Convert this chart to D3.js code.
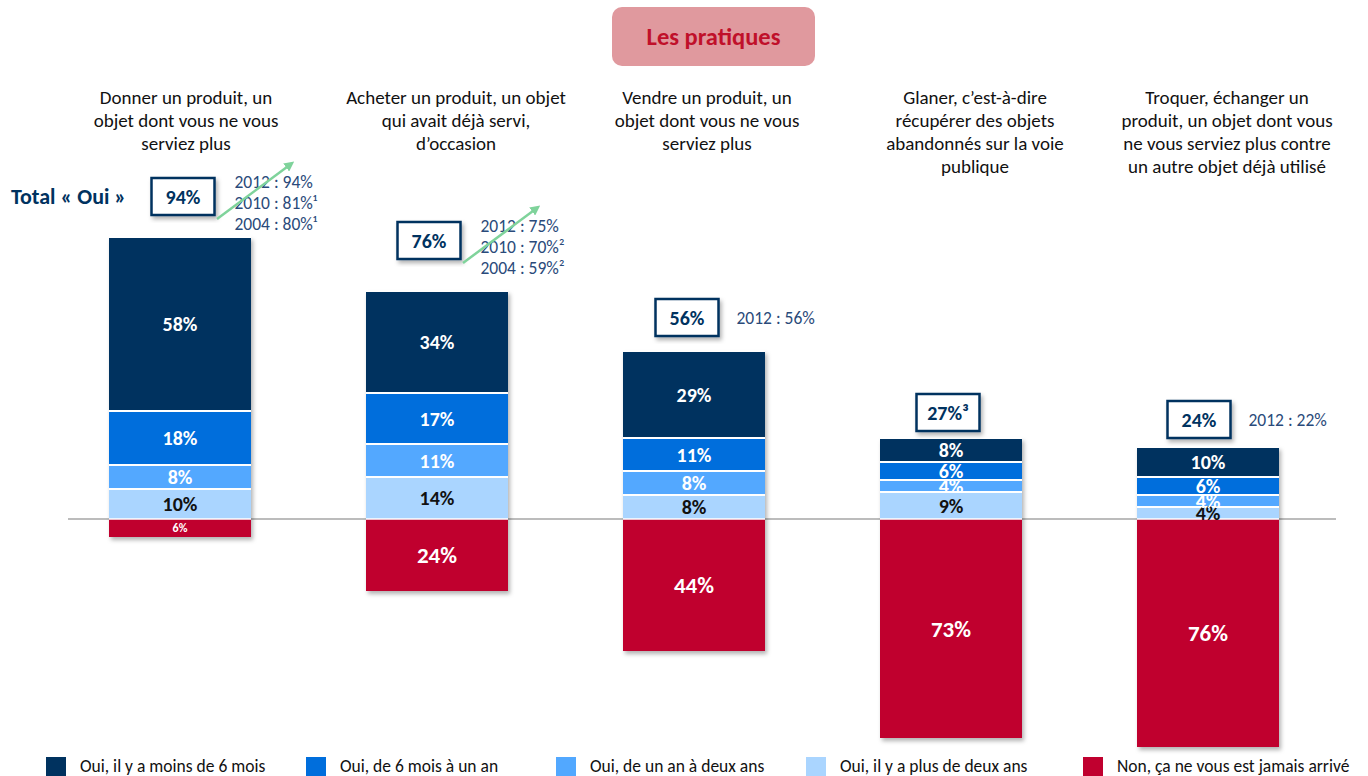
<!DOCTYPE html>
<html>
<head>
<meta charset="utf-8">
<script src="https://cdn.jsdelivr.net/npm/d3@7"></script>
<style>
  body { margin: 0; background: #fff; }
  svg { font-family: Carlito, Lato, "Open Sans", sans-serif; }
</style>
</head>
<body>
<div id="chart"></div>
<script>
// chart data
var categories = ["donner", "acheter", "vendre", "glaner", "troquer"];
var categoryTitles = [
  ["Donner un produit, un", "objet dont vous ne vous", "serviez plus"],
  ["Acheter un produit, un objet", "qui avait déjà servi,", "d\u2019occasion"],
  ["Vendre un produit, un", "objet dont vous ne vous", "serviez plus"],
  ["Glaner, c\u2019est-à-dire", "récupérer des objets", "abandonnés sur la voie", "publique"],
  ["Troquer, échanger un", "produit, un objet dont vous", "ne vous serviez plus contre", "un autre objet déjà utilisé"]
];
var seriesNames = [
  "Oui, il y a moins de 6 mois",
  "Oui, de 6 mois à un an",
  "Oui, de un an à deux ans",
  "Oui, il y a plus de deux ans",
  "Non, ça ne vous est jamais arrivé"
];
// stacked from the baseline upward: plus de deux ans, un an à deux ans, 6 mois à un an, moins de 6 mois
var moinsDe6Mois = [58, 34, 29, 8, 10];
var de6MoisAUnAn = [18, 17, 11, 6, 6];
var deUnADeuxAns = [8, 11, 8, 4, 4];
var plusDeDeuxAns = [10, 14, 8, 9, 4];
var jamais = [6, 24, 44, 73, 76];
var totalOui = ["94%", "76%", "56%", "27%\u00b3", "24%"];
var pastTotals = [
  ["2012 : 94%", "2010 : 81%\u00b9", "2004 : 80%\u00b9"],
  ["2012 : 75%", "2010 : 70%\u00b2", "2004 : 59%\u00b2"],
  ["2012 : 56%"],
  [],
  ["2012 : 22%"]
];

var colors = ["#00325F", "#006EDC", "#52A8FF", "#AAD5FF", "#C0002F"];
var labelColors = ["#fff", "#fff", "#fff", "#111", "#fff"];

var svgWidth = 1368, svgHeight = 776;
var svg = d3.select("#chart").append("svg").attr("width", svgWidth).attr("height", svgHeight);

var defs = svg.append("defs");
var shadow = defs.append("filter").attr("id", "shadow").attr("x", "-10%").attr("y", "-10%").attr("width", "130%").attr("height", "130%");
shadow.append("feDropShadow").attr("dx", 2).attr("dy", 3).attr("stdDeviation", 2).attr("flood-color", "#000").attr("flood-opacity", 0.3);
var marker = defs.append("marker").attr("id", "arrow").attr("viewBox", "0 0 10 10").attr("refX", 6).attr("refY", 5)
  .attr("markerWidth", 4).attr("markerHeight", 4).attr("orient", "auto");
marker.append("path").attr("d", "M0,0L10,5L0,10z").attr("fill", "#7FD39B");

// scales
var x = d3.scaleBand().domain(categories).range([51.5, 1336.5]).paddingInner(0.4475).paddingOuter(0.4475 / 2);
var y = d3.scaleLinear().domain([0, 100]).range([519, 219]);

// stack data
var rows = categories.map(function(c, i) {
  return { cat: c, s0: moinsDe6Mois[i], s1: de6MoisAUnAn[i], s2: deUnADeuxAns[i], s3: plusDeDeuxAns[i] };
});
var stack = d3.stack().keys(["s3", "s2", "s1", "s0"]);
var stacked = stack(rows);
var seriesIndex = { s0: 0, s1: 1, s2: 2, s3: 3 };

// title box
svg.append("rect").attr("x", 612).attr("y", 7).attr("width", 203).attr("height", 59).attr("rx", 10)
  .attr("fill", "#E0999E");
svg.append("text").attr("x", 713.5).attr("y", 45).attr("text-anchor", "middle")
  .attr("font-size", 24.5).attr("font-weight", "bold").attr("fill", "#C0102A").text("Les pratiques");

// baseline
svg.append("line").attr("x1", 68).attr("x2", 1336).attr("y1", y(0)).attr("y2", y(0))
  .attr("stroke", "#A6A6A6").attr("stroke-width", 1.5);

// bars with shadow
var barsG = svg.append("g");
categories.forEach(function(c, i) {
  var g = barsG.append("g").attr("filter", "url(#shadow)");
  g.append("rect").attr("x", x(c)).attr("width", x.bandwidth())
    .attr("y", y(0)).attr("height", y(0) - y(jamais[i])).attr("fill", colors[4]);
  stacked.forEach(function(layer) {
    var d = layer[i];
    g.append("rect").attr("x", x(c)).attr("width", x.bandwidth())
      .attr("y", y(d[1])).attr("height", y(d[0]) - y(d[1]))
      .attr("fill", colors[seriesIndex[layer.key]]);
  });
});
// white separators between segments
stacked.forEach(function(layer) {
  barsG.selectAll(null).data(layer).enter().append("line")
    .attr("x1", function(d) { return x(d.data.cat); })
    .attr("x2", function(d) { return x(d.data.cat) + x.bandwidth(); })
    .attr("y1", function(d) { return y(d[1]); })
    .attr("y2", function(d) { return y(d[1]); })
    .attr("stroke", "#fff").attr("stroke-width", 2);
});
barsG.selectAll(null).data(categories).enter().append("line")
  .attr("x1", function(c) { return x(c); })
  .attr("x2", function(c) { return x(c) + x.bandwidth(); })
  .attr("y1", y(0)).attr("y2", y(0))
  .attr("stroke", "#fff").attr("stroke-width", 1.5);

// segment labels
stacked.forEach(function(layer) {
  var si = seriesIndex[layer.key];
  svg.selectAll(null).data(layer).enter().append("text")
    .attr("x", function(d) { return x(d.data.cat) + x.bandwidth() / 2; })
    .attr("y", function(d) { return (y(d[0]) + y(d[1])) / 2; })
    .attr("dy", "0.35em").attr("text-anchor", "middle")
    .attr("font-size", 20).attr("font-weight", "bold").attr("fill", labelColors[si])
    .text(function(d) { return (d[1] - d[0]) + "%"; });
});
svg.selectAll(null).data(categories).enter().append("text")
  .attr("x", function(c) { return x(c) + x.bandwidth() / 2; })
  .attr("y", function(c, i) { return (y(0) + y(-jamais[i])) / 2; })
  .attr("dy", "0.35em").attr("text-anchor", "middle")
  .attr("font-size", function(c, i) { return jamais[i] < 10 ? 12 : 23; })
  .attr("font-weight", "bold").attr("fill", "#fff")
  .text(function(c, i) { return jamais[i] + "%"; });

// category titles
var titleShift = [6, 19, 13, 24, 19];
categories.forEach(function(c, i) {
  var t = svg.append("text").attr("text-anchor", "middle").attr("font-size", 19).attr("fill", "#111");
  categoryTitles[i].forEach(function(line, j) {
    t.append("tspan").attr("x", x(c) + x.bandwidth() / 2 + titleShift[i]).attr("y", 104 + j * 23).text(line);
  });
});

// total « Oui »
svg.append("text").attr("x", 11).attr("y", 204).attr("font-size", 22).attr("font-weight", "bold")
  .attr("fill", "#00325F").text("Total \u00ab Oui \u00bb");

var boxShift = [3, -8, -7, -3, -9];   // box centre relative to bar centre
var boxGap = [22, 32, 15, 7, 9];      // gap between box bottom and bar top
categories.forEach(function(c, i) {
  var cx = x(c) + x.bandwidth() / 2 + boxShift[i];
  var top = y(moinsDe6Mois[i] + de6MoisAUnAn[i] + deUnADeuxAns[i] + plusDeDeuxAns[i]);
  var by = top - boxGap[i] - 37;
  svg.append("rect").attr("x", cx - 31.5).attr("y", by).attr("width", 63).attr("height", 37)
    .attr("fill", "#fff").attr("stroke", "#00325F").attr("stroke-width", 2.5).attr("filter", "url(#shadow)");
  svg.append("text").attr("x", cx).attr("y", by + 18.5).attr("dy", "0.35em").attr("text-anchor", "middle")
    .attr("font-size", 20).attr("font-weight", "bold").attr("fill", "#00325F").text(totalOui[i]);

  // earlier waves
  var hist = pastTotals[i];
  if (hist.length) {
    var tx = cx + 31.5 + (hist.length > 1 ? 20 : 18);
    var ty0 = hist.length > 1 ? by + 10 : by + 25;
    var ht = svg.append("text").attr("font-size", 17.5).attr("fill", "#2A4A7A");
    hist.forEach(function(line, j) {
      ht.append("tspan").attr("x", tx).attr("y", ty0 + j * 21).text(line);
    });
    if (hist.length > 1) {
      svg.append("line").attr("x1", cx + 34).attr("y1", by + 41)
        .attr("x2", cx + 108).attr("y2", by - 14)
        .attr("stroke", "#7FD39B").attr("stroke-width", 2.5).attr("marker-end", "url(#arrow)");
    }
  }
});

// legend
var legendX = [46, 306, 556, 806, 1083];
var legend = svg.selectAll(".legend").data(seriesNames).enter().append("g").attr("class", "legend")
  .attr("transform", function(d, i) { return "translate(" + legendX[i] + ",757)"; });
legend.append("rect").attr("width", 20).attr("height", 20).attr("fill", function(d, i) { return colors[i]; });
legend.append("text").attr("x", 34).attr("y", 15).attr("font-size", 17.5).attr("fill", "#111").text(function(d) { return d; });
</script>
</body>
</html>
